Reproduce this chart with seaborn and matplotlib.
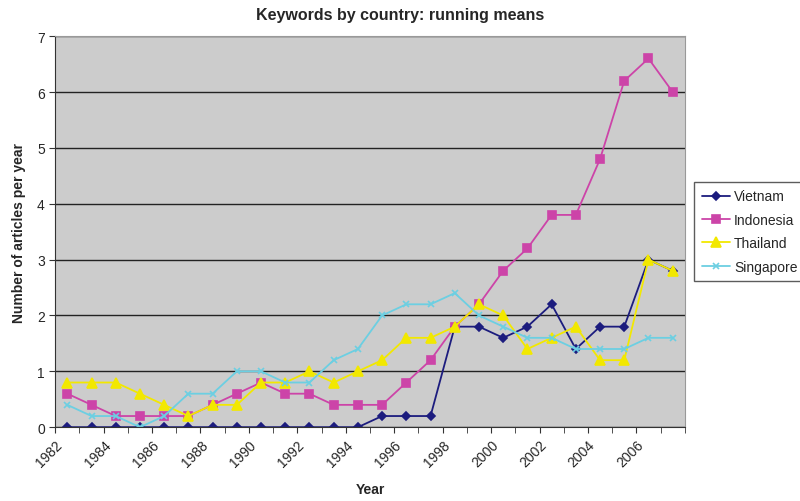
import matplotlib
matplotlib.use("Agg")
import matplotlib.pyplot as plt
import seaborn as sns
import pandas as pd
import numpy as np

years = list(range(1982, 2008))
vietnam = [0, 0, 0, 0, 0, 0, 0, 0, 0, 0, 0, 0, 0, 0.2, 0.2, 0.2, 1.8, 1.8, 1.6, 1.8, 2.2, 1.4, 1.8, 1.8, 3.0, 2.8]
indonesia = [0.6, 0.4, 0.2, 0.2, 0.2, 0.2, 0.4, 0.6, 0.8, 0.6, 0.6, 0.4, 0.4, 0.4, 0.8, 1.2, 1.8, 2.2, 2.8, 3.2, 3.8, 3.8, 4.8, 6.2, 6.6, 6.0]
thailand = [0.8, 0.8, 0.8, 0.6, 0.4, 0.2, 0.4, 0.4, 0.8, 0.8, 1.0, 0.8, 1.0, 1.2, 1.6, 1.6, 1.8, 2.2, 2.0, 1.4, 1.6, 1.8, 1.2, 1.2, 3.0, 2.8]
singapore = [0.4, 0.2, 0.2, 0.0, 0.2, 0.6, 0.6, 1.0, 1.0, 0.8, 0.8, 1.2, 1.4, 2.0, 2.2, 2.2, 2.4, 2.0, 1.8, 1.6, 1.6, 1.4, 1.4, 1.4, 1.6, 1.6]
tick_labels = [str(y) for y in range(1982, 2007, 2)]

series = {"Vietnam": vietnam, "Indonesia": indonesia, "Thailand": thailand, "Singapore": singapore}
styles = {
    "Vietnam": dict(color="#1c1c7e", marker="D", ms=4.5),
    "Indonesia": dict(color="#cc44a8", marker="s", ms=5.5),
    "Thailand": dict(color="#f2e800", marker="^", ms=7),
    "Singapore": dict(color="#6ccfe2", marker="x", ms=5),
}

sns.set_style("white")
plt.rcParams["font.family"] = ["Liberation Sans", "DejaVu Sans"]

fig = plt.figure(figsize=(8, 5.02), dpi=100)
ax = fig.add_axes([0.069, 0.147, 0.787, 0.779])
ax.set_facecolor("#cccccc")

for name, vals in series.items():
    df = pd.DataFrame({"x": np.arange(len(years)) + 0.5, "y": vals})
    st = styles[name]
    sns.lineplot(data=df, x="x", y="y", ax=ax, color=st["color"], marker=st["marker"],
                 markersize=st["ms"], markeredgecolor=st["color"], markeredgewidth=1.2,
                 linewidth=1.3, label=name)

ax.set_xlim(0, 26)
ax.set_ylim(0, 7)
ax.set_yticks(range(0, 8))
ax.yaxis.grid(True, color="#222222", linewidth=1.0)
ax.set_axisbelow(True)
ax.set_xticks(np.arange(0, 25, 2))
ax.set_xticklabels(tick_labels, rotation=45, ha="right", rotation_mode="anchor", fontsize=10)
ax.set_xticks(np.arange(0, 27, 1), minor=True)
ax.tick_params(axis="x", which="both", direction="out", length=4, bottom=True, color="#333333")
ax.tick_params(axis="y", direction="out", length=4, left=True, labelsize=10, color="#333333")
for s in ["top", "right"]:
    ax.spines[s].set_color("#999999")
for s in ["left", "bottom"]:
    ax.spines[s].set_color("#333333")

ax.set_xlabel("Year", fontsize=10, fontweight="bold", labelpad=9)
ax.set_ylabel("Number of articles per year", fontsize=10, fontweight="bold", labelpad=8)
fig.suptitle("Keywords by country: running means", fontsize=11.5, fontweight="bold", x=0.5, y=0.985)

leg = ax.legend(loc="upper left", bbox_to_anchor=(0.868, 0.636), bbox_transform=fig.transFigure,
                frameon=True, fancybox=False, fontsize=10, handlelength=2.0, handletextpad=0.3,
                borderpad=0.55, borderaxespad=0, labelspacing=0.68, edgecolor="#333333")
leg.get_frame().set_linewidth(1.0)

fig.savefig("out.png", dpi=100)
